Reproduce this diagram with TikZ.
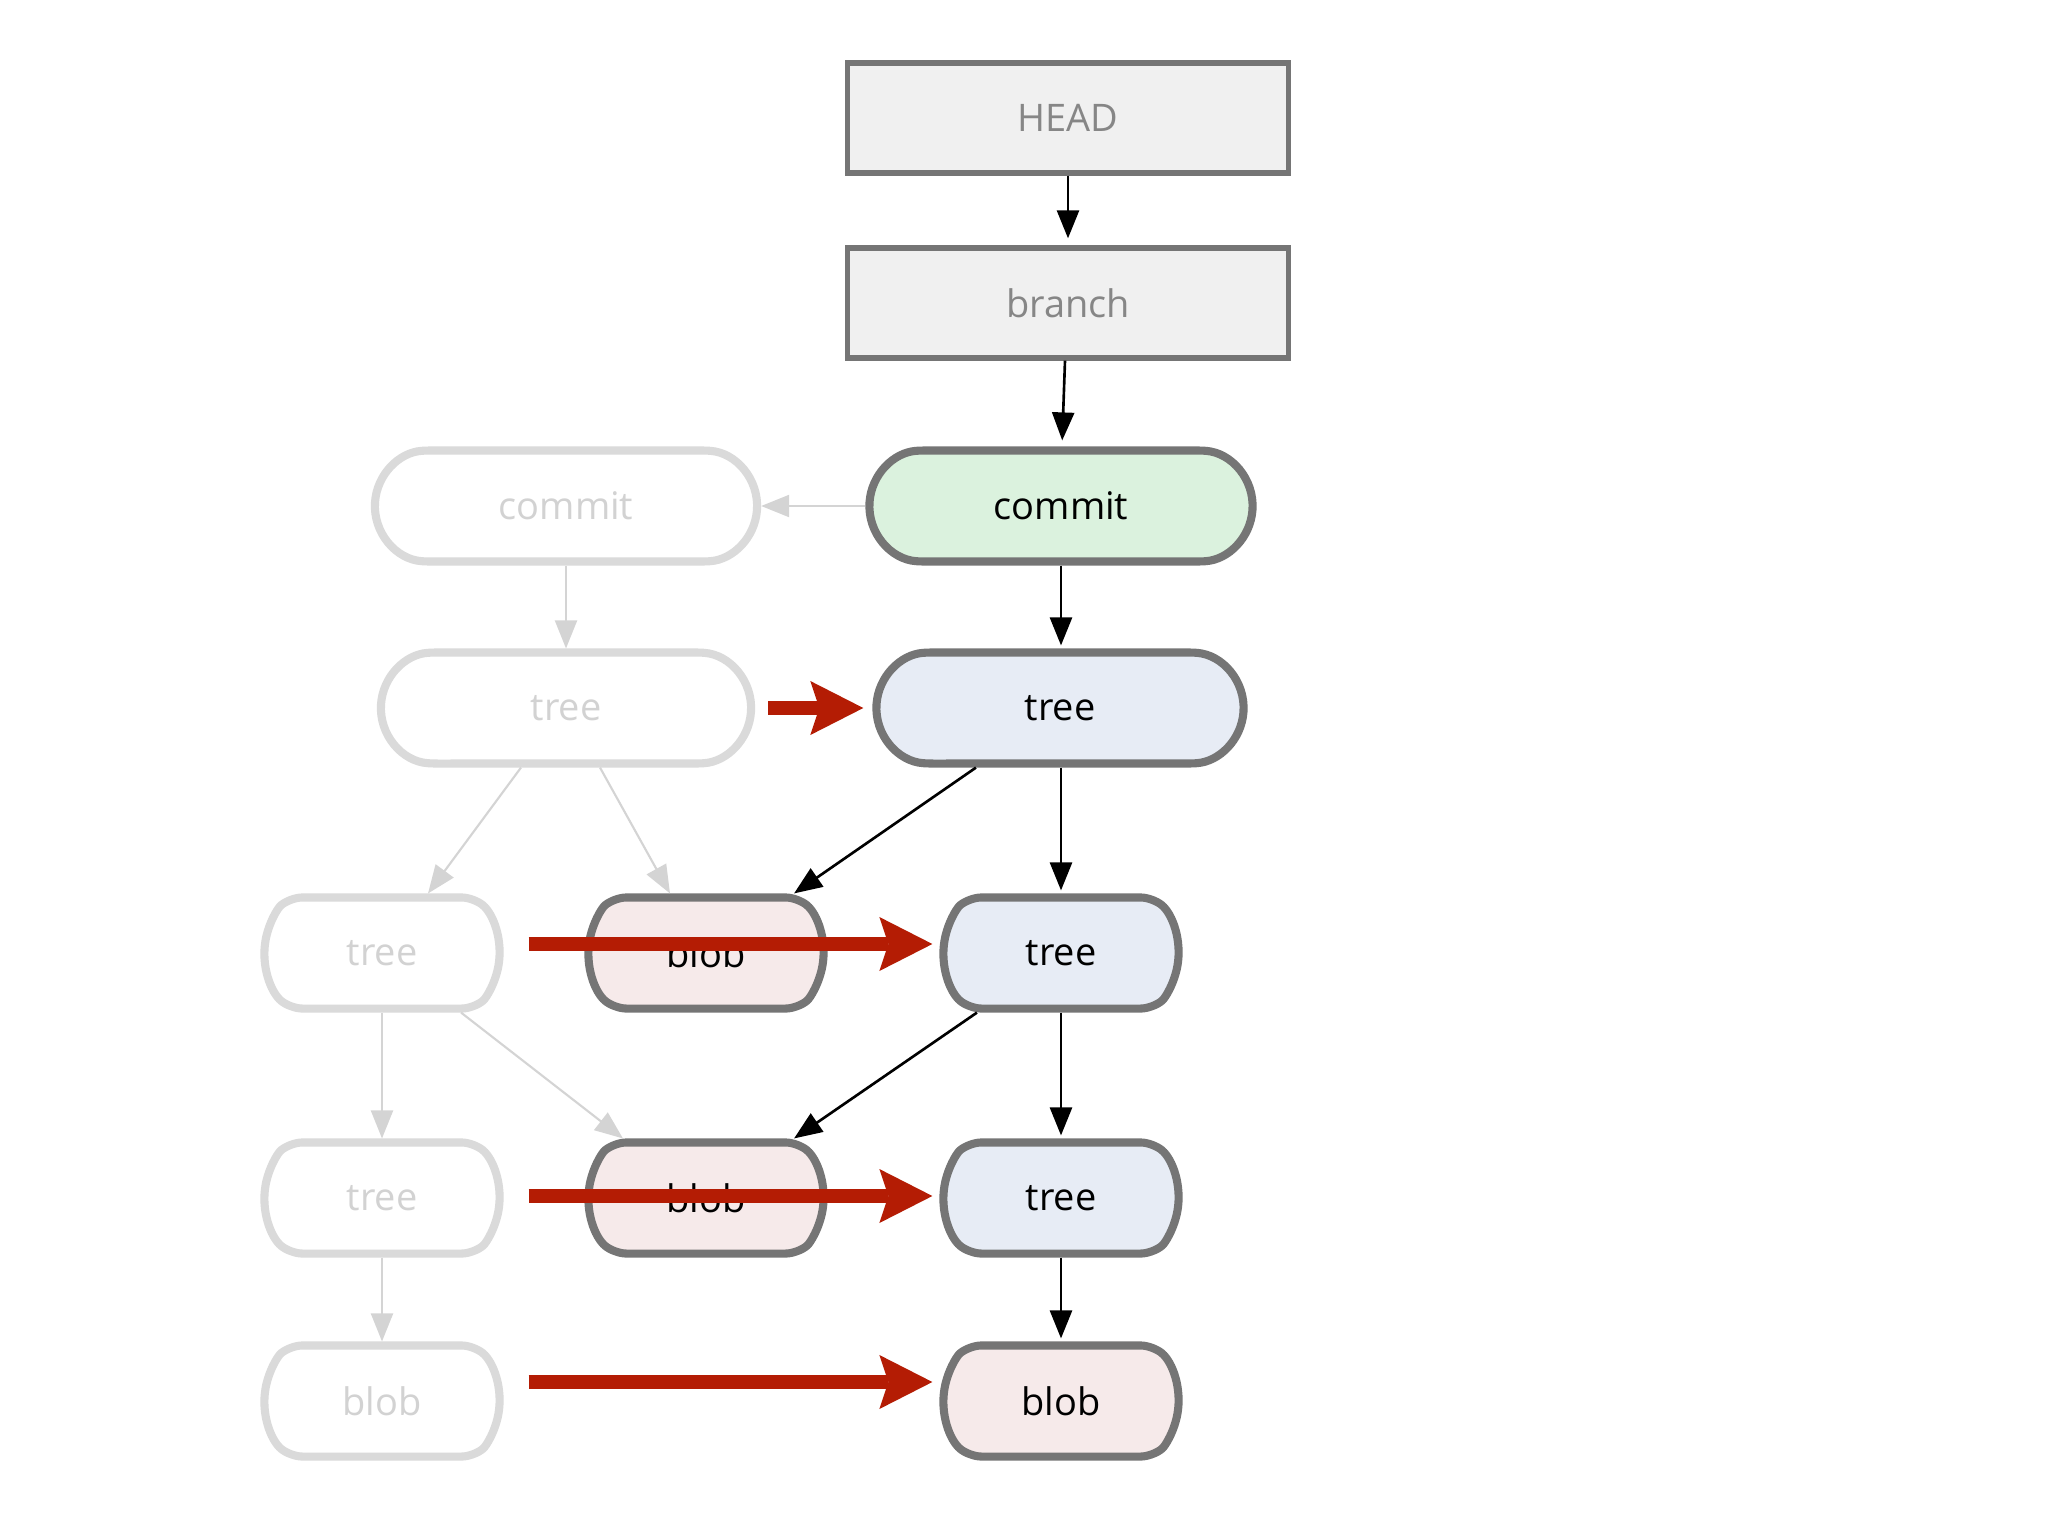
\documentclass[tikz,border=0pt]{standalone}
\usepackage{fontspec}
\setmainfont{Open Sans}
\usetikzlibrary{arrows.meta,shapes.misc}
\definecolor{bordergray}{HTML}{757575}
\definecolor{ghost}{HTML}{DADADA}
\definecolor{ghostline}{HTML}{D4D4D4}
\definecolor{ghosttext}{HTML}{D2D2D2}
\definecolor{refgray}{HTML}{F0F0F0}
\definecolor{reftext}{HTML}{868686}
\definecolor{commitfill}{HTML}{DBF2DE}
\definecolor{treefill}{HTML}{E7ECF5}
\definecolor{blobfill}{HTML}{F6EAEA}
\definecolor{redarrow}{RGB}{180,28,4}
\begin{document}
\begin{tikzpicture}[x=0.01cm,y=-0.01cm,
  every node/.style={font=\fontsize{10.8pt}{13pt}\selectfont, inner sep=0pt},
  refbox/.style={rectangle, draw=bordergray, line width=1.5pt, fill=refgray, text=reftext,
    minimum width=4.41cm, minimum height=1.10cm},
  pill/.style={rounded rectangle, draw=bordergray, line width=2.3pt, text=black,
    minimum height=1.11cm},
  bigpill/.style={pill, rounded rectangle arc length=172, rounded corners=0.05cm},
  smallpill/.style={pill, rounded rectangle arc length=100, minimum width=2.35cm, rounded corners=0.12cm},
  ghostbig/.style={bigpill, draw=ghost, fill=white, text=ghosttext},
  ghostsmall/.style={smallpill, draw=ghost, fill=white, text=ghosttext},
  conn/.style={line width=0.75pt, -{Triangle[length=0.28cm,width=0.22cm]}},
  gconn/.style={conn, draw=ghostline, line width=0.6pt},
  redarr/.style={draw=redarrow, line width=0.14cm,
    -{Stealth[length=0.53cm,width=0.54cm,inset=0.09cm,line width=0pt]}}
]
\useasboundingbox (0,0) rectangle (2048,1536);
\fill[white] (0,0) rectangle (2048,1536);

% reference boxes
\node[refbox] (head) at (1068,118) {HEAD};
\node[refbox] (branch) at (1068,303) {branch};

% commits
\node[bigpill, fill=commitfill, minimum width=3.83cm] (commit) at (1061,506) {commit};
\node[ghostbig, minimum width=3.82cm] (oc) at (566,506) {commit};

% row 2
\node[bigpill, fill=treefill, minimum width=3.67cm] (nt2) at (1060,708) {tree};
\node[ghostbig, minimum width=3.70cm] (ot2) at (566,708) {tree};

% row 3
\node[ghostsmall] (ot3) at (382,953) {tree};
\node[smallpill, fill=blobfill] (b3) at (706,953) {blob};
\node[smallpill, fill=treefill] (nt3) at (1061,953) {tree};

% row 4
\node[ghostsmall] (ot4) at (382,1198) {tree};
\node[smallpill, fill=blobfill] (b4) at (706,1198) {blob};
\node[smallpill, fill=treefill] (nt4) at (1061,1198) {tree};

% row 5
\node[ghostsmall] (ob5) at (382,1401) {blob};
\node[smallpill, fill=blobfill] (b5) at (1061,1401) {blob};

% black connectors
\draw[conn, shorten >=0.07cm] (head) -- (branch);
\draw[conn, shorten >=0.06cm] ([xshift=-0.03cm]branch.south) -- ([xshift=0.01cm]commit.north);
\draw[conn, shorten >=0.03cm] (commit.south) -- (commit.south |- nt2.north);
\draw[conn, shorten >=0.03cm] (nt3.north |- nt2.south) -- (nt3.north);
\draw[conn] ([xshift=-0.84cm]nt2.south) -- ([xshift=0.88cm]b3.north);
\draw[conn, shorten >=0.03cm] (nt3.south) -- (nt4.north);
\draw[conn] ([xshift=-0.84cm]nt3.south) -- ([xshift=0.88cm]b4.north);
\draw[conn, shorten >=0.03cm] (nt4.south) -- (b5.north);

% ghost connectors
\draw[gconn] (commit.west) -- (oc.east);
\draw[gconn] (oc.south) -- (ot2.north);
\draw[gconn] ([xshift=-0.45cm]ot2.south) -- ([xshift=0.46cm]ot3.north);
\draw[gconn] ([xshift=0.34cm]ot2.south) -- ([xshift=-0.36cm]b3.north);
\draw[gconn] (ot3.south) -- (ot4.north);
\draw[gconn] ([xshift=0.79cm]ot3.south) -- ([xshift=-0.83cm]b4.north);
\draw[gconn] (ot4.south) -- (ob5.north);

% red arrows
\draw[redarr] ([xshift=0.13cm]ot2.east) -- ([xshift=-0.09cm]nt2.west);
\draw[redarr] ([xshift=0.25cm,yshift=0.09cm]ot3.east) -- ([xshift=-0.07cm,yshift=0.09cm]nt3.west);
\draw[redarr] ([xshift=0.25cm,yshift=0.02cm]ot4.east) -- ([xshift=-0.07cm,yshift=0.02cm]nt4.west);
\draw[redarr] ([xshift=0.25cm,yshift=0.19cm]ob5.east) -- ([xshift=-0.07cm,yshift=0.19cm]b5.west);
\end{tikzpicture}
\end{document}
